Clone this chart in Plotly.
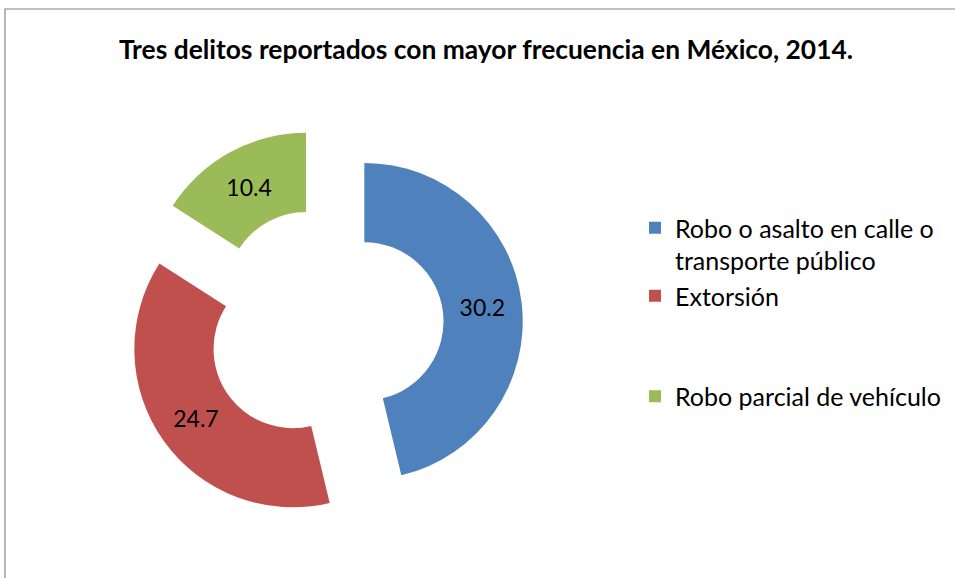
"""Donut chart: three most reported crimes in Mexico, 2014."""

import plotly.graph_objects as go

# Data
categories = [
    "Robo o asalto en calle o<br>transporte público",
    "Extorsión<br> <br> ",
    "Robo parcial de vehículo",
]
values = [30.2, 24.7, 10.4]
colors = ["#4F81BD", "#C0504D", "#9BBB59"]

W, H = 955, 578
cx, cy, half = 325, 326, 198  # pie box centre and half size, in pixels

fig = go.Figure()
fig.add_trace(go.Pie(
    labels=categories, values=values,
    marker=dict(colors=colors),
    hole=0.5, pull=0.25, sort=False,
    direction="clockwise", rotation=0,
    texttemplate="%{value}", textposition="inside",
    insidetextorientation="horizontal",
    textfont=dict(family="Lato", size=23, color="black"),
    domain=dict(x=[(cx - half) / W, (cx + half) / W],
                y=[(H - cy - half) / H, (H - cy + half) / H]),
))

fig.update_layout(
    width=W, height=H,
    margin=dict(l=0, r=0, t=0, b=0),
    paper_bgcolor="white",
    title=dict(text="<b>Tres delitos reportados con mayor frecuencia en México, 2014.</b>",
               x=486 / W, y=1 - 50 / H, xanchor="center", yanchor="middle",
               font=dict(family="Lato", size=26.4, color="black")),
    legend=dict(x=635 / W, y=1 - 205 / H, xanchor="left", yanchor="top",
                valign="top", font=dict(family="Lato", size=25, color="black")),
    shapes=[dict(type="rect", xref="paper", yref="paper",
                 x0=5 / W, x1=1.02, y0=-0.02, y1=1 - 9 / H,
                 line=dict(color="#868686", width=1.2))],
)

# drop the default page margin so the figure sits at the window origin
fig.write_html("out.html", config={"displayModeBar": False},
               post_script="document.body.style.margin = '0';")
